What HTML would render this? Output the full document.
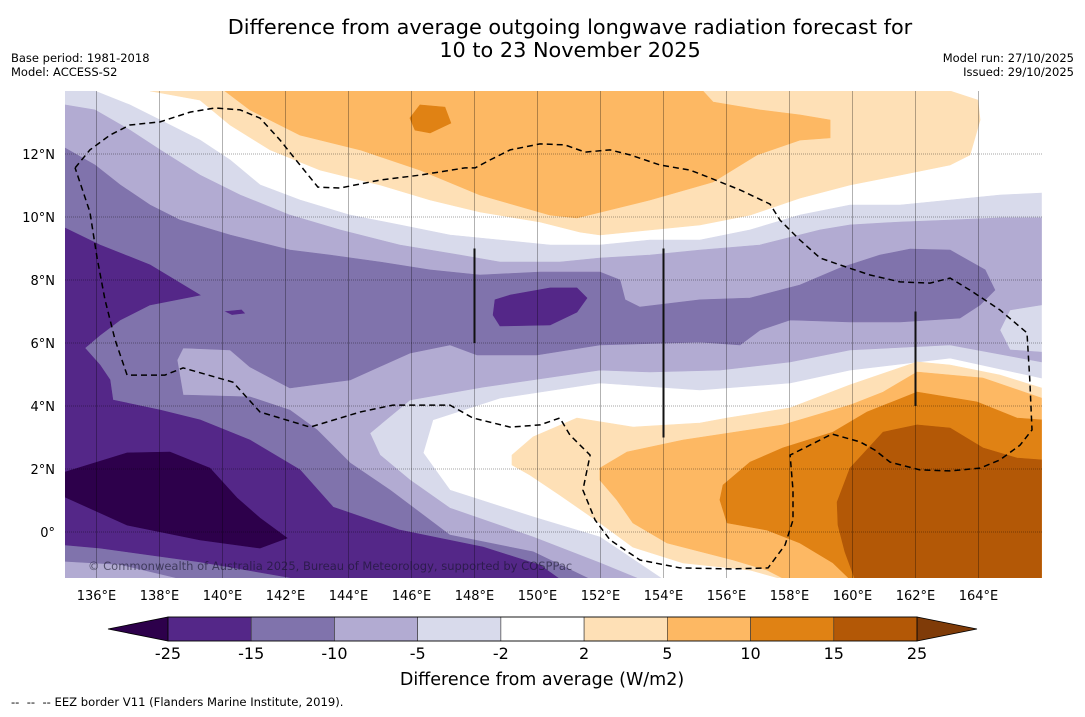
<!DOCTYPE html>
<html><head><meta charset="utf-8"><title>OLR difference forecast</title>
<style>
html,body{margin:0;padding:0;background:#fff;}
body{width:1085px;height:713px;overflow:hidden;font-family:"DejaVu Sans","Liberation Sans",sans-serif;}
svg text{font-family:"DejaVu Sans","Liberation Sans",sans-serif;}
</style></head>
<body>
<svg id="chart" width="1085" height="713" viewBox="0 0 1085 713" xmlns="http://www.w3.org/2000/svg">
<text x="570" y="34" font-size="20.8" text-anchor="middle" fill="#000">Difference from average outgoing longwave radiation forecast for</text>
<text x="570" y="57" font-size="20.8" text-anchor="middle" fill="#000">10 to 23 November 2025</text>
<text x="11" y="62" font-size="11.5">Base period: 1981-2018</text>
<text x="11" y="76" font-size="11.5">Model: ACCESS-S2</text>
<text x="1074" y="62" font-size="11.5" text-anchor="end">Model run: 27/10/2025</text>
<text x="1074" y="76" font-size="11.5" text-anchor="end">Issued: 29/10/2025</text>
<defs><clipPath id="mapclip"><rect x="65" y="91" width="977" height="487"/></clipPath></defs>
<g id="map" clip-path="url(#mapclip)">
<rect x="65" y="91" width="977" height="487" fill="#ffffff"/>
</g>
<g id="axes"></g>
<g id="cbar"></g>
<text x="542" y="685" font-size="17.5" text-anchor="middle">Difference from average (W/m2)</text>
<text x="11" y="706" font-size="11.6" xml:space="preserve">--  --  -- EEZ border V11 (Flanders Marine Institute, 2019).</text>
</svg>
<script>
// ---- data (lon, lat) contour polygons ----
const lonTicks = [136,138,140,142,144,146,148,150,152,154,156,158,160,162,164];
const latTicks = [0,2,4,6,8,10,12];
const cbarLevels = [-25,-15,-10,-5,-2,2,5,10,15,25];
const contourLav = [[135,14],[135.95,14],[137.06,13.56],[138.02,13.08],[139.29,12.44],[140.24,11.81],[141.19,11.02],[142.46,10.54],[144.05,10.06],[145.63,9.75],[147.22,9.43],[148.81,9.27],[150.4,9.11],[151.98,9.11],[153.57,9.27],[155.16,9.27],[156.75,9.59],[158.33,10.06],[159.92,10.38],[161.51,10.38],[163.1,10.54],[164.68,10.7],[166,10.76],[166,4.89],[163.1,5.52],[159.92,5.14],[158.02,4.73],[155.16,4.51],[151.98,4.73],[148.81,4.25],[146.68,3.56],[146.37,2.51],[147.22,1.33],[149.86,0.48],[151.98,-0.16],[153.98,-1.5],[135,-1.5]];
const contourM1 = [[135,13.56],[135.95,13.4],[137.06,12.76],[138.02,12.13],[139.29,11.33],[140.56,10.7],[142.14,10.06],[143.73,9.59],[145.63,9.11],[147.54,8.79],[148.81,8.57],[150.71,8.57],[151.98,8.7],[153.57,8.79],[155.16,8.95],[157.06,9.11],[158.97,9.59],[159.92,9.75],[161.51,9.84],[163.1,9.9],[164.68,9.97],[166,9.97],[166,7.21],[165,7.05],[164.68,6.41],[165,5.78],[166,5.71],[166,5.4],[163.1,5.94],[159.92,5.78],[158.02,5.4],[155.79,5.14],[153.57,5.08],[151.98,5.14],[148.27,4.6],[145.95,4.19],[144.68,3.14],[145,2.44],[145.95,1.65],[147.22,0.76],[149.86,-0.16],[151.98,-0.98],[153.25,-1.5],[135,-1.5]];
const contourM2 = [[135,12.19],[135.95,11.65],[136.75,11.02],[137.7,10.38],[138.65,9.9],[140.24,9.43],[142.14,8.95],[143.41,8.79],[145,8.57],[146.59,8.32],[148.17,8.16],[150.08,8.25],[151.98,8.25],[152.62,8],[152.78,7.37],[153.25,7.14],[155.16,7.37],[156.75,7.43],[158.33,7.84],[159.6,8.38],[160.87,8.79],[161.83,8.98],[163.1,8.95],[164.21,8.32],[164.52,7.68],[164.05,7.21],[163.41,6.79],[161.51,6.67],[159.92,6.67],[158.02,6.73],[157.06,6.41],[156.43,5.94],[155.16,6.03],[151.98,5.94],[149.98,5.62],[148.08,5.62],[147.22,5.94],[145.95,5.68],[144.05,4.83],[142.14,4.57],[140.87,5.24],[140.24,5.78],[138.75,5.84],[138.56,5.46],[138.75,4.35],[140.87,4.29],[142.14,3.87],[143,3.24],[144.05,2.19],[145.32,1.33],[147.22,-0.1],[149.86,-0.63],[151.67,-1.5],[135,-1.5]];
const contourD = [[135,9.65],[136.11,9.11],[137.7,8.48],[139.29,7.52],[137.7,7.21],[136.75,6.73],[136.11,6.25],[135.63,5.84],[136.11,5.3],[136.43,4.83],[136.52,4.19],[138.02,3.87],[139.29,3.56],[140.87,2.92],[142.46,1.97],[143.51,0.79],[145.63,0.06],[148.27,-0.48],[150.08,-1.05],[150.71,-1.5],[142.46,-1.5],[139.29,-0.95],[136.11,-0.51],[135,-0.41]];
const contourM1Patch = [[135,-0.95],[136.75,-1.05],[138.65,-1.5],[135,-1.5]];
const contourDD = [[135,1.9],[136.97,2.51],[138.33,2.54],[139.6,2.03],[140.46,1.08],[141.19,0.44],[142.05,-0.19],[141.19,-0.51],[139.29,-0.25],[136.97,0.22],[135,1.11]];
const contourDBlob = [[148.65,7.37],[149.13,7.52],[150.4,7.75],[151.25,7.75],[151.57,7.43],[151.25,6.98],[150.4,6.57],[148.81,6.54],[148.59,6.89]];
const contourDSpeck = [[140.1,7.0],[140.6,7.05],[140.7,6.95],[140.3,6.9]];
const contourPeachTop = [[137.7,14],[139.29,13.71],[140.24,12.92],[141.51,12.13],[143.1,11.49],[145,11.02],[146.59,10.54],[148.17,10.16],[150.08,9.84],[151.35,9.52],[151.98,9.43],[153.57,9.59],[155.16,9.75],[156.75,10.06],[158.33,10.6],[159.92,11.02],[161.51,11.33],[163.1,11.65],[163.73,11.97],[164.05,13.08],[163.98,13.71],[163.1,14]];
const contourOrangeTop = [[140.08,14],[140.87,13.4],[142.46,12.6],[144.37,12.13],[146.27,11.49],[148.17,10.7],[150.4,10.06],[151.25,9.97],[153.57,10.54],[155.57,11.11],[156.97,11.97],[158.33,12.44],[159.29,12.51],[159.29,13.08],[158.33,13.24],[157.06,13.4],[155.57,13.65],[155.25,14]];
const contourDarkOrangeTop = [[145.95,13.14],[146.27,13.56],[147.06,13.49],[147.25,12.98],[146.59,12.67],[146.11,12.76]];
const contourPeachBot = [[149.19,2.44],[149.86,3.02],[151.25,3.62],[153.03,3.33],[155.16,3.46],[156.02,3.62],[158.02,3.94],[159.92,4.67],[162.05,5.4],[163.1,5.3],[164.68,4.98],[166,4.57],[166,-1.5],[157.79,-1.5],[156.75,-1.21],[154.62,-0.98],[153.03,-0.48],[151.98,0.29],[150.71,1.17],[149.76,1.81],[149.19,2.13]];
const contourOrangeBot = [[151.98,2.03],[152.84,2.54],[154.62,2.92],[157.79,3.4],[159.92,4.03],[160.97,4.44],[162.05,5.08],[164.14,4.89],[166,4.25],[166,-1.5],[157.86,-1.5],[157.29,-1.21],[156.21,-0.89],[154.11,-0.35],[153.03,0.29],[152.52,1.02],[151.98,1.65]];
const contourDarkOrangeBot = [[155.89,1.49],[156.75,2.22],[157.79,2.67],[159.38,3.17],[160.46,3.81],[162.05,4.44],[163.95,4.13],[165.22,3.62],[166,3.56],[166,-1.5],[159.92,-1.5],[159.38,-0.98],[158.33,-0.35],[157.29,0.06],[156.02,0.29],[155.79,1.02]];
const contourBrown = [[159.51,0.95],[159.92,2.03],[160.97,3.17],[162.05,3.4],[163.1,3.3],[164.14,2.67],[165.22,2.35],[166,2.29],[166,-1.5],[160.08,-1.5],[159.76,-0.63],[159.54,0.22]];
const eezBorder = [[135.32,11.56],[135.79,12.13],[136.43,12.6],[137.06,12.92],[138.02,13.02],[138.97,13.33],[139.76,13.46],[140.56,13.4],[141.19,13.14],[141.83,12.44],[142.46,11.65],[143.03,10.95],[143.73,10.92],[145,11.17],[146.27,11.33],[147.7,11.56],[148.02,11.56],[148.49,11.81],[149.13,12.13],[150.08,12.32],[150.87,12.29],[151.51,12.06],[152.3,12.13],[152.94,11.97],[153.89,11.65],[154.84,11.49],[155.48,11.24],[156.43,10.86],[157.38,10.41],[157.7,9.9],[158.33,9.27],[158.97,8.7],[159.6,8.48],[160.56,8.16],[161.51,7.94],[162.46,7.9],[163.1,8.06],[163.73,7.68],[164.68,7.05],[165.54,6.32],[165.63,4.83],[165.7,3.24],[165.32,2.76],[164.68,2.29],[164.05,2.03],[163.1,1.94],[162.14,1.97],[161.19,2.22],[160.71,2.6],[160.24,2.86],[159.35,3.11],[158.65,2.76],[158.02,2.44],[158.11,1.33],[158.11,0.38],[157.86,-0.41],[157.32,-1.14],[156.11,-1.17],[154.52,-1.14],[153.25,-0.89],[152.3,-0.25],[151.83,0.38],[151.44,1.33],[151.67,2.44],[151.03,3.08],[150.71,3.62],[150.08,3.4],[149.13,3.33],[147.95,3.62],[147.22,4.03],[145.41,4.03],[144.37,3.81],[142.78,3.33],[141.19,3.81],[140.33,4.76],[138.75,5.21],[138.17,4.98],[136.97,4.98],[136.59,6.1],[136.27,7.37],[136.02,8.7],[135.79,10.16],[135.32,11.56]];
const markerLines = [[148,9,6],[154,9,3],[162,7,4]];

// ---- axis functions ----
const LON0=135, LAT0=14, PX=31.5, X0=65, Y0=91;
function xs(lon){return X0+(lon-LON0)*PX;}
function ys(lat){return Y0+(LAT0-lat)*PX;}
const NS='http://www.w3.org/2000/svg';
const mapG=document.getElementById('map');
function poly(pts,fill,name){
  const p=document.createElementNS(NS,'polygon');
  p.setAttribute('points',pts.map(d=>xs(d[0]).toFixed(1)+','+ys(d[1]).toFixed(1)).join(' '));
  p.setAttribute('fill',fill);
  p.setAttribute('stroke',fill);
  p.setAttribute('stroke-width','0.6');
  
  
  mapG.appendChild(p);
}
poly(contourLav,'#d8daeb','contour-minus2');
poly(contourM1,'#b2abd2','contour-minus5');
poly(contourM2,'#8073ac','contour-minus10');
poly(contourD,'#542788','contour-minus15');
poly(contourM1Patch,'#b2abd2','contour-minus5-patch');
poly(contourDD,'#2d004b','contour-minus25');
poly(contourDBlob,'#542788','contour-minus15-blob');
poly(contourDSpeck,'#542788','contour-minus15-speck');
poly(contourPeachTop,'#fee0b6','contour-plus2-north');
poly(contourOrangeTop,'#fdb863','contour-plus5-north');
poly(contourDarkOrangeTop,'#e08214','contour-plus10-north');
poly(contourPeachBot,'#fee0b6','contour-plus2-south');
poly(contourOrangeBot,'#fdb863','contour-plus5-south');
poly(contourDarkOrangeBot,'#e08214','contour-plus10-south');
poly(contourBrown,'#b35806','contour-plus15-south');

// gridlines
lonTicks.forEach(l=>{
  const g=document.createElementNS(NS,'line');
  g.setAttribute('x1',xs(l));g.setAttribute('x2',xs(l));g.setAttribute('y1',91);g.setAttribute('y2',578);
  g.setAttribute('stroke','rgba(0,0,0,0.3)');g.setAttribute('stroke-width','1');
  
  
  mapG.appendChild(g);
});
latTicks.forEach(l=>{
  const g=document.createElementNS(NS,'line');
  g.setAttribute('x1',65);g.setAttribute('x2',1042);g.setAttribute('y1',ys(l));g.setAttribute('y2',ys(l));
  g.setAttribute('stroke','rgba(0,0,0,0.35)');g.setAttribute('stroke-width','1');g.setAttribute('stroke-dasharray','1,1');
  
  
  mapG.appendChild(g);
});
// marker lines
markerLines.forEach(m=>{
  const g=document.createElementNS(NS,'line');
  g.setAttribute('x1',xs(m[0]));g.setAttribute('x2',xs(m[0]));g.setAttribute('y1',ys(m[1]));g.setAttribute('y2',ys(m[2]));
  g.setAttribute('stroke','#111');g.setAttribute('stroke-width','2');
  
  
  mapG.appendChild(g);
});
// EEZ border
const eez=document.createElementNS(NS,'polyline');
eez.setAttribute('points',eezBorder.map(d=>xs(d[0]).toFixed(1)+','+ys(d[1]).toFixed(1)).join(' '));
eez.setAttribute('fill','none');eez.setAttribute('stroke','#000');eez.setAttribute('stroke-width','1.5');eez.setAttribute('stroke-dasharray','6,4');


mapG.appendChild(eez);
// copyright
const cp=document.createElementNS(NS,'text');
cp.setAttribute('x',88);cp.setAttribute('y',570);cp.setAttribute('font-size','11.5');cp.setAttribute('fill','rgba(20,20,40,0.6)');
cp.textContent='© Commonwealth of Australia 2025, Bureau of Meteorology, supported by COSPPac';


mapG.appendChild(cp);

// axis tick labels
const axG=document.getElementById('axes');
lonTicks.forEach(l=>{
  const t=document.createElementNS(NS,'text');
  t.setAttribute('x',xs(l));t.setAttribute('y',600);t.setAttribute('font-size','13');t.setAttribute('text-anchor','middle');
  t.textContent=l+'°E';
  
  
  axG.appendChild(t);
});
latTicks.forEach(l=>{
  const t=document.createElementNS(NS,'text');
  t.setAttribute('x',55);t.setAttribute('y',ys(l)+5);t.setAttribute('font-size','13');t.setAttribute('text-anchor','end');
  t.textContent=l===0?'0°':l+'°N';
  
  
  axG.appendChild(t);
});

// colorbar
const cbG=document.getElementById('cbar');
const cbColors=['#542788','#8073ac','#b2abd2','#d8daeb','#ffffff','#fee0b6','#fdb863','#e08214','#b35806'];
const CB_L=168, CB_R=917, CB_T=617, CB_B=641;
const segW=(CB_R-CB_L)/(cbarLevels.length-1);
function cbx(i){return CB_L+i*segW;}
const lt=document.createElementNS(NS,'polygon');
lt.setAttribute('points',`${CB_L},${CB_T} ${CB_L},${CB_B} 108,629`);lt.setAttribute('fill','#2d004b');lt.setAttribute('stroke','#000');lt.setAttribute('stroke-width','0.8');


cbG.appendChild(lt);
const rt=document.createElementNS(NS,'polygon');
rt.setAttribute('points',`${CB_R},${CB_T} ${CB_R},${CB_B} 977,629`);rt.setAttribute('fill','#7f3b08');rt.setAttribute('stroke','#000');rt.setAttribute('stroke-width','0.8');


cbG.appendChild(rt);
cbColors.forEach((c,i)=>{
  const r=document.createElementNS(NS,'rect');
  r.setAttribute('x',cbx(i));r.setAttribute('y',CB_T);r.setAttribute('width',segW);r.setAttribute('height',CB_B-CB_T);
  r.setAttribute('fill',c);r.setAttribute('stroke','#333');r.setAttribute('stroke-width','0.6');
  
  
  cbG.appendChild(r);
});
const ob=document.createElementNS(NS,'rect');
ob.setAttribute('x',CB_L);ob.setAttribute('y',CB_T);ob.setAttribute('width',CB_R-CB_L);ob.setAttribute('height',CB_B-CB_T);
ob.setAttribute('fill','none');ob.setAttribute('stroke','#000');ob.setAttribute('stroke-width','0.8');


cbG.appendChild(ob);
cbarLevels.forEach((v,i)=>{
  const t=document.createElementNS(NS,'text');
  t.setAttribute('x',cbx(i));t.setAttribute('y',659);t.setAttribute('font-size','16');t.setAttribute('text-anchor','middle');
  t.textContent=v;
  
  
  cbG.appendChild(t);
});
</script>
</body></html>
